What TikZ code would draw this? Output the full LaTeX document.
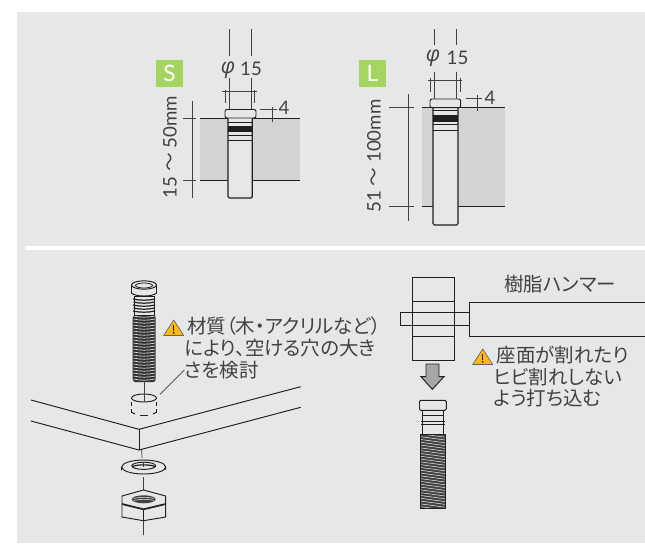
\documentclass[tikz,border=0pt]{standalone}
\usepackage{fontspec}
\setmainfont{Lato}
\newfontfamily\cjk[RawFeature=+palt]{Noto Sans CJK JP}
\newfontfamily\phifont{Open Sans}
\definecolor{panel}{HTML}{E6E7E9}
\definecolor{slab}{HTML}{D2D3D5}
\definecolor{ink}{HTML}{231F20}
\definecolor{txt}{HTML}{414042}
\definecolor{leaf}{HTML}{A5D561}
\definecolor{warn}{HTML}{FDB813}
\tikzset{
  x=0.75pt,y=-0.75pt,
  ln/.style={draw=ink,line width=0.72pt},
  thin ln/.style={draw=ink!85,line width=0.55pt},
  dimtxt/.style={text=txt,inner sep=0pt,font=\fontsize{14}{16}\selectfont},
  phitxt/.style={text=txt,inner sep=0pt,font=\phifont\itshape\fontsize{16}{18}\selectfont},
  jp/.style={text=txt,inner sep=0pt,anchor=west,font=\cjk\fontsize{14.6}{16}\selectfont},
  badge/.style={fill=leaf,text=white,inner sep=0pt,minimum width=20.25pt,minimum height=20.25pt,font=\fontsize{17}{18}\selectfont},
  shaft/.style={draw=ink,line width=0.85pt,fill=panel,rounded corners=1pt},
}
\newcommand{\warnsign}[2]{%
  \begin{scope}[shift={(#1,#2)}]
    \draw[fill=warn,draw=ink!70,line width=0.5pt,line join=round] (0,15.5) -- (10,0) -- (20,15.5) -- cycle;
    \draw[ink,line width=1.1pt] (10,4.5) -- (10,10.5);
    \fill[ink] (10,12.8) circle (1);
  \end{scope}}
\newcommand{\anchorfig}[9]{%
  \draw[shaft] (#1,#3) -- (#1,#5) -- (#2,#5) -- (#2,#3);
  \draw[ln] (#1,#7) -- (#2,#7);
  \fill[ink] (#1,#8) rectangle (#2,#9);
}
\begin{document}
\begin{tikzpicture}
\useasboundingbox (0,0) rectangle (645,543);
\fill[white] (0,0) rectangle (645,543);
\fill[panel] (17,12) rectangle (645,543);
\fill[white] (25,246) rectangle (645,250);

% ---------- S ----------
\fill[slab] (200,118) rectangle (300,180);
\draw[ln] (200,118) -- (228,118) (252,118) -- (300,118);
\draw[ln] (200,180) -- (228,180) (252,180) -- (300,180);
\anchorfig{228}{252.3}{118}{180}{198}{109}{122.7}{126}{132}
\draw[ln] (228,135) -- (252.3,135) (228,140) -- (252.3,140);
\draw[ln,fill=panel,rounded corners=1.5pt] (225,118) -- (225,109.5) -- (256,109.5) -- (256,118) -- cycle;
\draw[thin ln] (229,29) -- (229,55.5) (251,29) -- (251,55.5);
\draw[thin ln] (229,78) -- (229,109) (251,78) -- (251,109);
\draw[thin ln] (222,91.7) -- (257,91.7) (225,90) -- (225,103) (254,90) -- (254,103);
\draw[thin ln] (192,100.7) -- (192,198) (183,118) -- (196,118) (183,180) -- (196,180);
\draw[thin ln] (260,109) -- (277,109) (272,107) -- (272,122);
\node[phitxt] (sphi) at (228,70) {φ};
\node[dimtxt] (sdia) at (251,69) {15};
\node[dimtxt] (sfour) at (284,108) {4};
\node[dimtxt,rotate=90] (slen) at (170,147) {15 {\cjk 〜} 50mm};
\node[badge] (sbadge) at (169.5,73.5) {S};

% ---------- L ----------
\fill[slab] (422,107.7) rectangle (505,206);
\draw[ln] (422,107.7) -- (505,107.7);
\draw[ln] (422,206) -- (433,206) (458,206) -- (505,206);
\anchorfig{433}{458}{107.7}{206}{225}{99}{110.7}{115}{121.7}
\draw[ln] (433,124.3) -- (458,124.3) (433,130) -- (458,130);
\draw[ln,fill=panel,rounded corners=1.5pt] (430,107.7) -- (430,99) -- (460.7,99) -- (460.7,107.7) -- cycle;
\draw[thin ln] (434.3,29) -- (434.3,45) (456,29) -- (456,45);
\draw[thin ln] (434.3,71.7) -- (434.3,98.5) (456,71.7) -- (456,98.5);
\draw[thin ln] (427.7,80.3) -- (462,80.3) (430,78) -- (430,92) (460,78) -- (460,92);
\draw[thin ln] (408,94) -- (408,220.7) (389,107.7) -- (414,107.7) (389,206) -- (414,206);
\draw[thin ln] (465.7,98.7) -- (482,98.7) (477,95) -- (477,110.7);
\node[phitxt] (lphi) at (433,58.5) {φ};
\node[dimtxt] (ldia) at (457.5,57.5) {15};
\node[dimtxt] (lfour) at (490,97.5) {4};
\node[dimtxt,rotate=90] (llen) at (374,156) {51 {\cjk 〜} 100mm};
\node[badge] (lbadge) at (372.5,73.5) {L};

% ---------- board ----------
\draw[ln] (31,400) -- (139,429.3) -- (300.7,386.7);
\draw[ln] (31,421) -- (139,450) -- (300.7,407.3);
\draw[ln] (139,429.3) -- (139,450);

% ---------- left bolt ----------
\draw[thin ln] (144,382) -- (144,401);
\fill[ink!92] (132.7,315) [rounded corners=2pt] rectangle (155.7,382);
\foreach \yy in {316,319,...,381}{
  \draw[panel,line width=0.5pt] (133.5,\yy) .. controls (140,\yy+1.6) and (148,\yy+1.6) .. (155,\yy);
}
\draw[ln,fill=panel] (134.5,296) -- (134.5,315) -- (154,315) -- (154,296) -- cycle;
\foreach \yy/\w in {299/11,302/10.5,305/11,308/10.5,311/11}{
  \draw[ink,line width=0.9pt] (144-\w,\yy) .. controls (140,\yy+1.6) and (148,\yy+1.6) .. (144+\w,\yy);
}
\draw[ln,fill=panel] (131.5,285) -- (131.5,293) .. controls (135,297) and (153,297) .. (156.5,293) -- (156.5,285);
\draw[ln,fill=panel] (144,285) ellipse [x radius=12.5,y radius=4.2];
\draw[ink,line width=0.6pt] (144,285.5) ellipse [x radius=8.5,y radius=2.5];

% ---------- hole ----------
\draw[ln] (144,398) ellipse [x radius=12.5,y radius=4];
\draw[thin ln] (144,392) -- (144,402);
\draw[ln] (131.5,401.5) -- (131.5,406) (156.5,401.5) -- (156.5,406);
\draw[ln] (131.5,409) -- (131.5,412.5) (156.5,409) -- (156.5,412.5);
\draw[ln] (140,415) -- (148,415);
\draw[ln] (132,412.5) -- (135,414) (156,412.5) -- (153,414);
\coordinate (leadA) at (160,394.3);
\coordinate (leadB) at (184.3,370);
\draw[thin ln] (leadA) -- (leadB);

% ---------- washer & nut ----------
\draw[thin ln] (141.7,450) -- (142,458);
\draw[ln,fill=panel] (121.7,467) -- (121.7,469) arc[start angle=180,end angle=360,x radius=22,y radius=7.4] -- (165.7,467);
\draw[ln,fill=panel] (143.7,467) ellipse [x radius=22,y radius=7];
\draw[ln,fill=panel] (143.7,465.8) ellipse [x radius=12,y radius=3.6];
\draw[thin ln] (143.7,462) -- (143.7,467);
\draw[ink,line width=0.9pt] (132.5,466.5) .. controls (137,464.3) and (150,464.3) .. (155,466.5);
\draw[thin ln] (143.7,477) -- (143.7,491);
\draw[ln,fill=panel,line join=round] (122,496) -- (143.5,490) -- (165.7,496) -- (165.7,517) -- (143.5,520.7) -- (122,517) -- cycle;
\draw[ink,line width=1.3pt] (122,504) -- (143.5,509.3) -- (165.7,504);
\draw[ln] (143.5,509.3) -- (143.5,520.7);
\fill[ink!85] (143.7,499.3) ellipse [x radius=12,y radius=4];
\draw[panel,line width=0.4pt] (133.5,498.5) .. controls (138,497) and (150,497) .. (154,498.5) (134,500.5) .. controls (138,499) and (150,499) .. (153.5,500.5);
\draw[thin ln] (143.7,521) -- (143.7,535);

% ---------- hammer ----------
\draw[ln] (412.7,277.7) rectangle (454,360);
\draw[ln] (412.7,301.7) -- (454,301.7) (412.7,336.7) -- (454,336.7);
\draw[ln] (470,312.3) -- (400,312.3) -- (400,325.7) -- (470,325.7);
\draw[ln] (645,302.3) -- (469.3,302.3) -- (469.3,336) -- (645,336);
\draw[ln,fill=ink!40,line join=miter] (426,364) -- (439,364) -- (439,376.7) -- (444,376.7) -- (432.3,389.3) -- (421,376.7) -- (426,376.7) -- cycle;

% ---------- right bolt ----------
\fill[ink!85] (420.7,434) rectangle (445,508);
\begin{scope}
\clip (420.7,434) rectangle (445,508);
\foreach \yy in {431,433.8,...,510}{
  \draw[panel,line width=0.4pt] (420,\yy) -- (446,\yy+3.5);
}
\end{scope}
\draw[ln] (420.7,434) rectangle (445,508);
\draw[ln,fill=panel] (422,410) rectangle (443.5,434);
\draw[ln] (421.5,415) -- (444,415) (421,421) -- (444.5,421) (421,424) -- (444.5,424);
\draw[ln,fill=panel,rounded corners=1pt] (419.5,410.3) -- (419.5,400.3) -- (446.3,400.3) -- (446.3,410.3) -- cycle;

% ---------- warnings & texts ----------
\warnsign{163.7}{320}
\warnsign{472.7}{349}
\node[jp] (matA) at (187,326.5) {材質（木・アクリルなど）};
\node[jp] (matB) at (184.3,348.5) {により、空ける穴の大き};
\node[jp] (matC) at (184.3,370) {さを検討};
\node[jp,anchor=center] (ham) at (560,284) {樹脂ハンマー};
\node[jp] (seaA) at (496.7,355.5) {座面が割れたり};
\node[jp] (seaB) at (493.3,376.7) {ヒビ割れしない};
\node[jp] (seaC) at (493.3,398) {よう打ち込む};
\end{tikzpicture}
\end{document}
